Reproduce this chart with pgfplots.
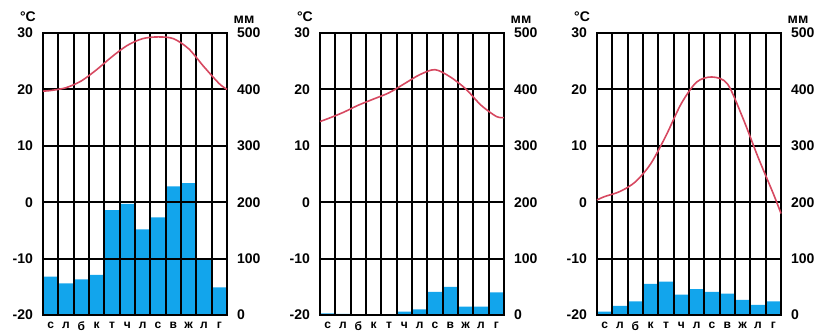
\documentclass[border=0pt]{standalone}
\usepackage{fontspec}
\setmainfont{Liberation Sans}
\usepackage{pgfplots}
\pgfplotsset{compat=1.18}
\definecolor{barblue}{RGB}{18,165,236}
\definecolor{tline}{RGB}{214,72,96}
\pgfplotsset{
 climbase/.style={scale only axis, width=92pt, height=141pt, xmin=0, xmax=12,
   anchor=south west, clip=false,
   major tick length=0pt, minor tick length=0pt, tick style={draw=none},
   axis line style={line width=1pt},
   font=\fontsize{7}{8}\selectfont\bfseries},
 precip/.style={climbase, ymin=0, ymax=500, hide x axis, axis y line*=right,
   ytick={0,100,...,500}, yticklabels={0,100,200,300,400,500},
   yticklabel pos=right,
   yticklabel style={xshift=1.5pt}},
 temp/.style={climbase, ymin=-20, ymax=30,
   ytick={-20,-10,...,30}, yticklabels={-20,-10,0,10,20,30},
   yticklabel style={xshift=-1.5pt},
   ymajorgrids, xtick={0.5,1.5,...,11.5},
   xticklabels={с,л,б,к,т,ч,л,с,в,ж,л,г},
   xticklabel style={font=\fontsize{6}{6}\selectfont\bfseries, yshift=0pt},
   minor xtick={0,...,12}, xminorgrids,
   major grid style={black, line width=1pt},
   minor grid style={black, line width=1pt}},
 bars/.style={ybar, bar width=1, fill=barblue, draw=none},
 templine/.style={tline, line width=0.8pt, smooth, no markers}
}
\newcommand{\units}{%
 \node[anchor=center] at ([xshift=-7.5pt,yshift=8pt]rel axis cs:0,1) {°C};
 \node[anchor=center] at ([xshift=8.5pt,yshift=6.5pt]rel axis cs:1,1) {мм};}
\begin{document}
\begin{tikzpicture}
\useasboundingbox (0,0) rectangle (409.5pt,167.5pt);
% ---------- chart 1
\begin{axis}[precip, at={(21.5pt,10pt)}]
\addplot[bars] coordinates {(0.5,68)(1.5,56)(2.5,63)(3.5,71)(4.5,186)(5.5,197)(6.5,152)(7.5,173)(8.5,228)(9.5,234)(10.5,98)(11.5,49)};
\end{axis}
\begin{axis}[temp, at={(21.5pt,10pt)}]
\addplot[templine] coordinates {(0,19.7)(0.5,19.8)(1.5,20.3)(2.5,21.5)(3.5,23.5)(4.5,25.8)(5.5,27.8)(6.5,29)(7.5,29.3)(8.5,29)(9.5,27.2)(10.5,24)(11.5,21)(12,20)};
\units
\end{axis}
% ---------- chart 2
\begin{axis}[precip, at={(160pt,10pt)}]
\addplot[bars] coordinates {(0.5,3)(1.5,2)(2.5,0)(3.5,0)(4.5,0)(5.5,6)(6.5,10)(7.5,41)(8.5,50)(9.5,15)(10.5,15)(11.5,40)};
\end{axis}
\begin{axis}[temp, at={(160pt,10pt)}]
\addplot[templine] coordinates {(0,14.3)(0.5,14.8)(1.5,15.9)(2.5,17.2)(3.5,18.3)(4.5,19.4)(5.5,21)(6.5,22.6)(7.5,23.5)(8.5,22.2)(9.5,20.1)(10.5,17.2)(11.5,15.2)(12,15)};
\units
\end{axis}
% ---------- chart 3
\begin{axis}[precip, at={(298.5pt,10pt)}]
\addplot[bars] coordinates {(0.5,6)(1.5,16)(2.5,24)(3.5,55)(4.5,59)(5.5,36)(6.5,46)(7.5,41)(8.5,38)(9.5,27)(10.5,18)(11.5,24)};
\end{axis}
\begin{axis}[temp, at={(298.5pt,10pt)}]
\addplot[templine] coordinates {(0,0.4)(0.5,1)(1.5,1.9)(2.5,3.6)(3.5,6.8)(4.5,11.8)(5.5,17.5)(6.5,21.3)(7.5,22.2)(8.5,21)(9.5,15)(10.5,8)(11.5,1.5)(12,-2)};
\units
\end{axis}
\end{tikzpicture}
\end{document}
